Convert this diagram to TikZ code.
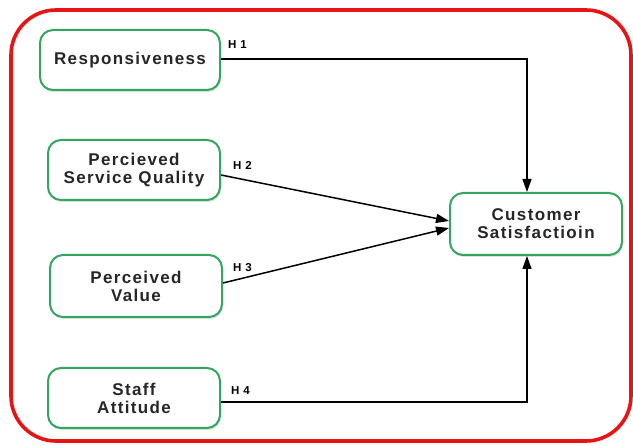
\documentclass[tikz,border=0pt]{standalone}
\usepackage{fontspec}
\setmainfont{Liberation Sans}
\newfontfamily\boxfont[LetterSpace=8]{Liberation Sans Bold}
\newfontfamily\hfont[LetterSpace=6]{Liberation Sans Bold}
\usetikzlibrary{arrows.meta,shadows}
\definecolor{boxgreen}{RGB}{50,165,95}
\definecolor{frame}{RGB}{230,20,20}
\tikzset{
  construct/.style={draw=boxgreen, line width=2pt, rounded corners=13pt, fill=white,
    align=center, font=\boxfont\fontsize{17}{18}\selectfont, text=black!85,
    drop shadow={shadow xshift=1pt, shadow yshift=-2pt, opacity=0.25}},
  path/.style={line width=1.5pt, -{Triangle[length=13pt,width=9pt]}},
  hyp/.style={font=\hfont\fontsize{11.5}{12}\selectfont, anchor=base west, inner sep=0pt}
}
\begin{document}
\begin{tikzpicture}[x=1pt,y=-1pt]
\useasboundingbox (0,0) rectangle (633,446);
\draw[frame, line width=3.6pt, rounded corners=45pt] (11,10) rectangle (631,441);
\node[construct, minimum width=180pt, minimum height=60pt] (resp) at (130,60) {Responsiveness};
\node[construct, minimum width=172pt, minimum height=60pt] (psq) at (134,170) {Percieved\\Service Quality};
\node[construct, minimum width=172pt, minimum height=62pt] (pv) at (136,286) {Perceived\\Value};
\node[construct, minimum width=172pt, minimum height=60pt] (sa) at (134,398) {Staff\\Attitude};
\node[construct, minimum width=172pt, minimum height=62pt] (cs) at (536,224) {Customer\\Satisfactioin};
\coordinate (c1) at (527,59);
\coordinate (c4) at (527,402);
\draw[path] (resp.east |- c1) -- (c1) -- (c1 |- cs.north);
\draw[path] (psq.east |- 0,175) -- (cs.west |- 0,221);
\draw[path] (pv.east |- 0,283) -- (cs.west |- 0,228);
\draw[path] (sa.east |- c4) -- (c4) -- (c4 |- cs.south);
\node[hyp] (h1) at (228,49) {H 1};
\node[hyp] (h2) at (233,170) {H 2};
\node[hyp] (h3) at (233,272) {H 3};
\node[hyp] (h4) at (231,395) {H 4};
\end{tikzpicture}
\end{document}
